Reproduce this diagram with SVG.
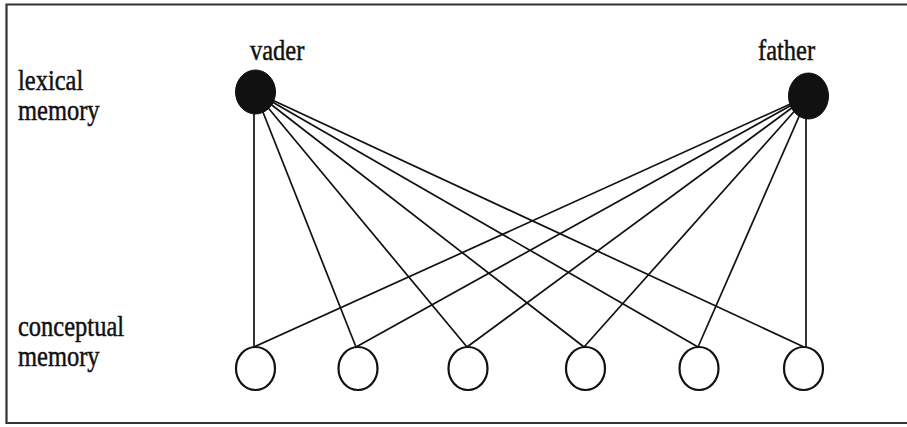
<svg xmlns="http://www.w3.org/2000/svg" width="907" height="427" viewBox="0 0 907 427">
<style>
.lbl{font-family:"Liberation Serif","Times New Roman",serif;font-size:24.5px;fill:#111;stroke:#111;stroke-width:0.4}
.ln{stroke:#111;stroke-width:1.7;fill:none}
.lex{fill:#111;stroke:#111;stroke-width:1}
.con{fill:#fff;stroke:#111;stroke-width:2.2}
</style>
<rect width="907" height="427" fill="#fff"/>
<path d="M912,4.5 H6.5 V423 H912" fill="none" stroke="#333" stroke-width="2.2"/>
<g id="labels">
<text class="lbl" transform="translate(18,90) scale(1,1.2)">lexical</text>
<text class="lbl" transform="translate(18,120) scale(1,1.2)">memory</text>
<text class="lbl" transform="translate(18,336) scale(1,1.2)">conceptual</text>
<text class="lbl" transform="translate(18,366) scale(1,1.2)">memory</text>
</g>
<g id="connectors">
<line class="ln" x1="254" y1="92" x2="254" y2="347"/>
<line class="ln" x1="255" y1="92" x2="356" y2="347"/>
<line class="ln" x1="255" y1="92" x2="467" y2="347"/>
<line class="ln" x1="255" y1="92" x2="584" y2="347"/>
<line class="ln" x1="255" y1="92" x2="698" y2="347"/>
<line class="ln" x1="255" y1="92" x2="804" y2="347"/>
<line class="ln" x1="806" y1="96" x2="806" y2="347"/>
<line class="ln" x1="808" y1="96" x2="698" y2="347"/>
<line class="ln" x1="808" y1="96" x2="584" y2="347"/>
<line class="ln" x1="808" y1="96" x2="467" y2="347"/>
<line class="ln" x1="808" y1="96" x2="356" y2="347"/>
<line class="ln" x1="808" y1="96" x2="254" y2="347"/>
</g>
<g id="vader">
<ellipse class="lex" cx="255.5" cy="92" rx="20" ry="22"/>
<text class="lbl" transform="translate(250,60) scale(1,1.2)">vader</text>
</g>
<g id="father">
<ellipse class="lex" cx="808.5" cy="96" rx="20" ry="23"/>
<text class="lbl" transform="translate(758,60) scale(1,1.2)">father</text>
</g>
<g id="c1"><ellipse class="con" cx="255.5" cy="368.5" rx="19.5" ry="21.5"/></g>
<g id="c2"><ellipse class="con" cx="358" cy="368.5" rx="19.5" ry="21.5"/></g>
<g id="c3"><ellipse class="con" cx="468" cy="368.5" rx="19.5" ry="21.5"/></g>
<g id="c4"><ellipse class="con" cx="585.5" cy="368.5" rx="19.5" ry="21.5"/></g>
<g id="c5"><ellipse class="con" cx="699" cy="368.5" rx="19.5" ry="21.5"/></g>
<g id="c6"><ellipse class="con" cx="803.5" cy="368.5" rx="19.5" ry="21.5"/></g>
</svg>
